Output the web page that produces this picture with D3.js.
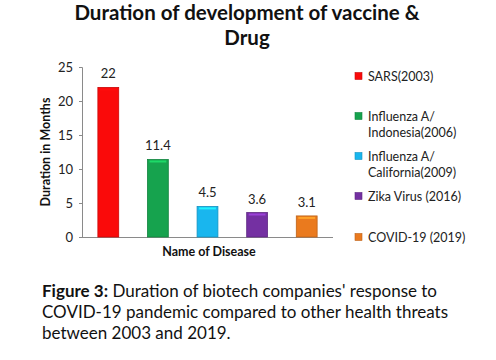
<!DOCTYPE html>
<html><head><meta charset="utf-8">
<script src="https://cdn.jsdelivr.net/npm/d3@7"></script>
<style>body{margin:0;background:#fff;} svg{display:block;}</style>
</head><body>
<svg id="c" width="496" height="360"></svg>
<script>
const categories = ["SARS(2003)", "Influenza A/ Indonesia(2006)", "Influenza A/ California(2009)", "Zika Virus (2016)", "COVID-19 (2019)"];
const legendLines = [["SARS(2003)"], ["Influenza A/", "Indonesia(2006)"], ["Influenza A/", "California(2009)"], ["Zika Virus (2016)"], ["COVID-19 (2019)"]];
const values = [22, 11.4, 4.5, 3.6, 3.1];
const valueLabels = ["22", "11.4", "4.5", "3.6", "3.1"];
const colors = ["#fa0a0a", "#16a34e", "#19b6ee", "#7430a2", "#ea7a1e"];
const yTicks = [0, 5, 10, 15, 20, 25];
const titleLines = ["Duration of development of vaccine &", "Drug"];
const yTitle = "Duration in Months";
const xTitle = "Name of Disease";

const svg = d3.select("#c");
const font = "Lato, 'Open Sans', sans-serif";
const x = d3.scaleBand().domain(categories).range([82, 333]).paddingInner(0.58).paddingOuter(0.32);
const y = d3.scaleLinear().domain([0, 25]).range([237, 67]);

// title
svg.append("g").selectAll("text").data(titleLines).join("text")
  .attr("x", 247).attr("y", (d, i) => 20 + i * 25)
  .attr("text-anchor", "middle").attr("font-family", font).attr("font-weight", "bold")
  .attr("font-size", 20.5).attr("fill", "#111").text(d => d);

// y axis
const ya = svg.append("g").attr("transform", "translate(82,0)")
  .call(d3.axisLeft(y).tickValues(yTicks).tickSize(3).tickPadding(6));
ya.selectAll("path,line").attr("stroke", "#8a8a8a");
ya.selectAll("text").attr("font-family", font).attr("font-size", 13).attr("fill", "#222");

// x axis
const xa = svg.append("g").attr("transform", "translate(0,237)")
  .call(d3.axisBottom(x).tickSize(0).tickFormat(""));
xa.select("path").attr("stroke", "#8a8a8a").attr("d", "M82,0.5H333");

// bars
const bars = svg.append("g").selectAll("g").data(categories).join("g");
bars.append("rect")
  .attr("x", d => x(d)).attr("y", (d, i) => y(values[i]))
  .attr("width", x.bandwidth()).attr("height", (d, i) => y(0) - y(values[i]))
  .attr("fill", (d, i) => colors[i])
  .attr("stroke", (d, i) => d3.color(colors[i]).darker(0.6)).attr("stroke-width", 0.8);
bars.append("rect")
  .attr("x", d => x(d) + 2).attr("y", (d, i) => y(values[i]) + 1)
  .attr("width", x.bandwidth() - 4).attr("height", 2)
  .attr("fill", (d, i) => d3.color(colors[i]).brighter(0.8));

// value labels
svg.append("g").selectAll("text").data(categories).join("text")
  .attr("x", d => x(d) + x.bandwidth() / 2).attr("y", (d, i) => y(values[i]) - 9)
  .attr("text-anchor", "middle").attr("font-family", font).attr("font-size", 13).attr("fill", "#222")
  .text((d, i) => valueLabels[i]);

// axis titles
svg.append("text").attr("transform", "translate(50,152) rotate(-90)")
  .attr("text-anchor", "middle").attr("font-family", font).attr("font-weight", "bold")
  .attr("font-size", 12.5).attr("fill", "#111").text(yTitle);
svg.append("text").attr("x", 209).attr("y", 256)
  .attr("text-anchor", "middle").attr("font-family", font).attr("font-weight", "bold")
  .attr("font-size", 12.5).attr("fill", "#111").text(xTitle);

// legend
const legY = [76, 116, 156, 196, 237];
const lg = svg.append("g").selectAll("g").data(categories).join("g")
  .attr("transform", (d, i) => `translate(355,${legY[i]})`);
lg.append("rect").attr("x", 0).attr("y", -3.5).attr("width", 7).attr("height", 7)
  .attr("fill", (d, i) => colors[i]).attr("stroke", (d, i) => d3.color(colors[i]).darker(0.6)).attr("stroke-width", 0.6);
lg.each(function(d, i) {
  d3.select(this).selectAll("text").data(legendLines[i]).join("text")
    .attr("x", 13).attr("y", (t, j) => 4.5 + j * 16)
    .attr("font-family", font).attr("font-size", 12.5).attr("fill", "#222").text(t => t);
});

// caption
const cap = svg.append("text").attr("font-family", font).attr("font-size", 17).attr("fill", "#111");
const c1 = cap.append("tspan").attr("x", 42).attr("y", 297);
c1.append("tspan").attr("font-weight", "bold").text("Figure 3:");
c1.append("tspan").text(" Duration of biotech companies' response to");
cap.append("tspan").attr("x", 42).attr("y", 318).text("COVID-19 pandemic compared to other health threats");
cap.append("tspan").attr("x", 42).attr("y", 339).text("between 2003 and 2019.");
</script>
</body></html>
